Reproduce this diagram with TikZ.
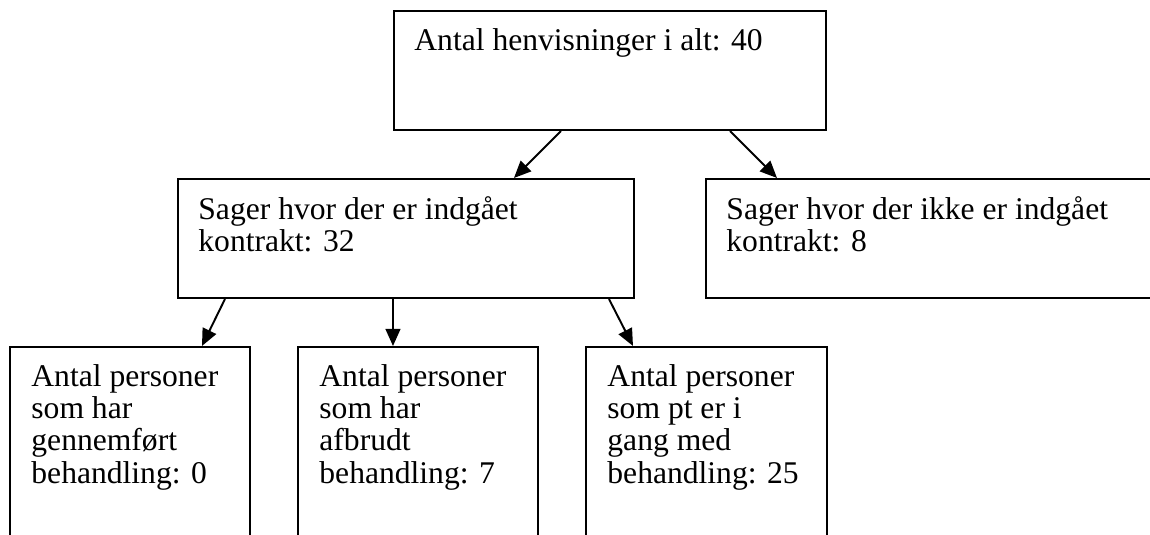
\documentclass[tikz,border=0pt]{standalone}
\usepackage{fontspec}
\setmainfont{Liberation Serif}
\usetikzlibrary{calc, fit, arrows.meta}

\begin{document}
\begin{tikzpicture}[x=0.44pt, y=-0.44pt,
        box/.style={draw, line width=0.9pt, inner sep=0pt},
        txt/.style={anchor=north west, inner sep=0pt, align=left, font=\fontsize{13.9}{14.1}\selectfont},
        arr/.style={line width=0.85pt, -{Triangle[length=7.5pt, width=6.5pt]}}]
        \useasboundingbox (0,0) rectangle (1150,535);
        \clip (0,0) rectangle (1150,535);

        \coordinate (T1) at (394,11);  \coordinate (T2) at (826,130);
        \coordinate (K1) at (178,179); \coordinate (K2) at (634,298);
        \coordinate (U1) at (706,179); \coordinate (U2) at (1153,298);
        \coordinate (G1) at (10,347);  \coordinate (G2) at (250,560);
        \coordinate (A1) at (298,347); \coordinate (A2) at (538,560);
        \coordinate (P1) at (586,347); \coordinate (P2) at (827,560);

        \node[box, fit=(T1)(T2)] (total) {};
        \node[box, fit=(K1)(K2)] (kontrakt) {};
        \node[box, fit=(U1)(U2)] (ikke) {};
        \node[box, fit=(G1)(G2)] (gennemfort) {};
        \node[box, fit=(A1)(A2)] (afbrudt) {};
        \node[box, fit=(P1)(P2)] (igang) {};

        \node[txt] (total-txt) at ($(total.north west)+(21,18)$) {\strut Antal henvisninger i alt: 40};
        \node[txt] (kontrakt-txt) at ($(kontrakt.north west)+(21,18)$) {\strut Sager hvor der er indgået\\ kontrakt: 32};
        \node[txt] (ikke-txt) at ($(ikke.north west)+(21,18)$) {\strut Sager hvor der ikke er indgået\\ kontrakt: 8};
        \node[txt] (gennemfort-txt) at ($(gennemfort.north west)+(22,18)$) {\strut Antal personer\\ som har\\ gennemført\\ behandling: 0};
        \node[txt] (afbrudt-txt) at ($(afbrudt.north west)+(22,18)$) {\strut Antal personer\\ som har\\ afbrudt\\ behandling: 7};
        \node[txt] (igang-txt) at ($(igang.north west)+(22,18)$) {\strut Antal personer\\ som pt er i\\ gang med\\ behandling: 25};

        \draw[arr] ($(total.south west)+(168,0)$) -- ($(kontrakt.north west)+(337,0)$);
        \draw[arr] ($(total.south west)+(337,0)$) -- ($(ikke.north west)+(72,0)$);
        \draw[arr] ($(kontrakt.south west)+(48,0)$) -- ($(gennemfort.north west)+(193,0)$);
        \draw[arr] ($(kontrakt.south west)+(216,0)$) -- ($(afbrudt.north west)+(96,0)$);
        \draw[arr] ($(kontrakt.south west)+(432,0)$) -- ($(igang.north west)+(48,0)$);
    \end{tikzpicture}
\end{document}
